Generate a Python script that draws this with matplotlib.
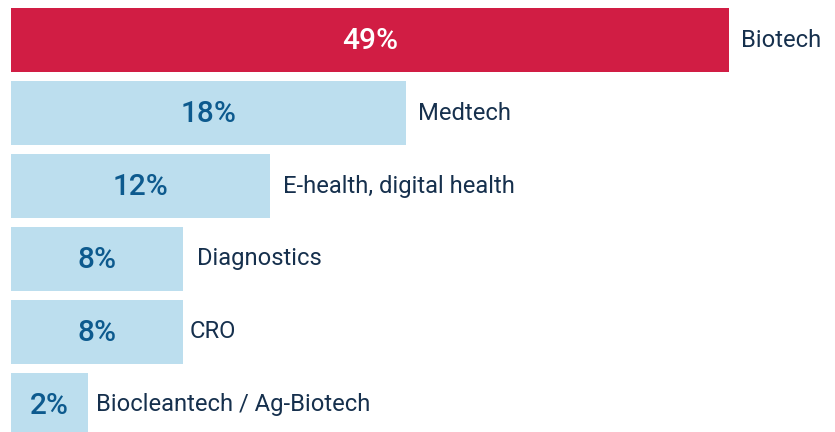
import matplotlib
matplotlib.use("Agg")
import matplotlib.pyplot as plt

categories = ["Biotech", "Medtech", "E-health, digital health", "Diagnostics", "CRO",
              "Biocleantech / Ag-Biotech"]
bar_lengths = [49.0, 26.96, 17.68, 11.74, 11.74, 5.26]
value_labels = ["49%", "18%", "12%", "8%", "8%", "2%"]
highlight = [True, False, False, False, False, False]

RED = "#d11d44"
LIGHT = "#bcdeee"
DARK_BLUE = "#0d5a8e"
NAVY = "#16304d"

W, H, DPI = 835, 432, 100
fig = plt.figure(figsize=(W / DPI, H / DPI), dpi=DPI)
ax = fig.add_axes([0, 0, 1, 1])
ax.set_axis_off()

pxu = 14.65  # pixels per data unit
left_px = 11
ax.set_xlim(-left_px / pxu, (W - left_px) / pxu)
spacing = 73.0
ax.set_ylim(5 + (H - 405) / spacing, -40 / spacing)

ypos = list(range(len(categories)))
colors = [RED if h else LIGHT for h in highlight]
ax.barh(ypos, bar_lengths, height=64 / spacing, color=colors, left=0)

label_gaps_px = [12, 12, 13, 14, 7, 8]
fam = ["Roboto", "DejaVu Sans"]
for y, L, lab, cat, h, g in zip(ypos, bar_lengths, value_labels, categories, highlight,
                                label_gaps_px):
    ax.text(L / 2, y + 0.02, lab, ha="center", va="center", fontsize=21.5,
            fontweight="medium", color="white" if h else DARK_BLUE, family=fam)
    ax.annotate(cat, xy=(L, y), xytext=(g * 72 / DPI, 0), textcoords="offset points",
                ha="left", va="center", fontsize=17.1, color=NAVY, family=fam)

fig.savefig("out.png", dpi=DPI)
